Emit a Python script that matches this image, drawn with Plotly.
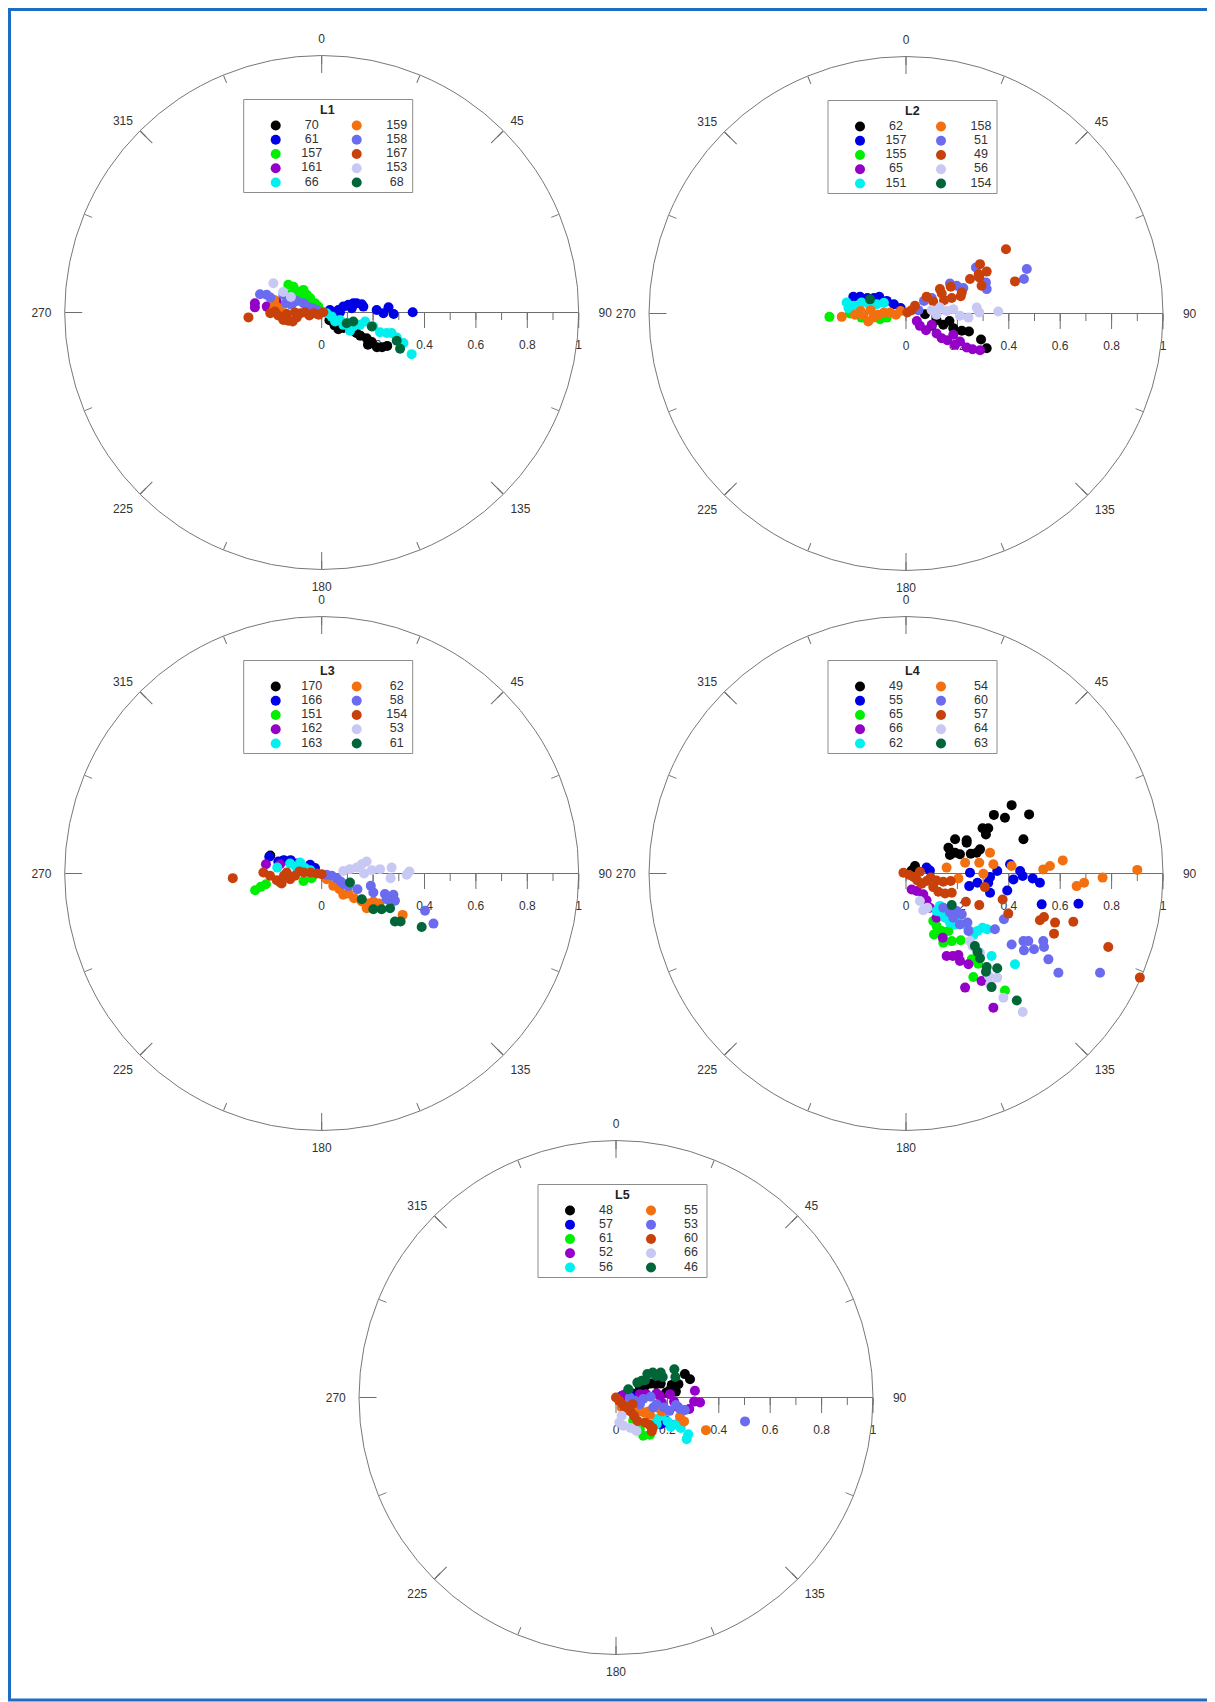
import numpy as np
import plotly.graph_objects as go

W, H = 1215, 1702
FONT = "Liberation Sans, Arial, sans-serif"
COLORS = ["#000000", "#0000e6", "#00ee00", "#9400c8", "#00f0f0",
          "#f2700f", "#6b6bf0", "#c8400a", "#c8c8f5", "#00663a"]

# ---------------- data (east / north components, radial units) ----------------
L1_NAMES = ["70", "61", "157", "161", "66", "159", "158", "167", "153", "68"]
L1_E = [
    [0.03, 0.05, 0.065, 0.085, 0.10, 0.12, 0.135, 0.15, 0.175, 0.195, 0.18, 0.215, 0.235, 0.255, 0.12],
    [0.032, 0.065, 0.084, 0.104, 0.123, 0.136, 0.156, 0.162, 0.214, 0.24, 0.26, 0.28, 0.354, 0.117, 0.071],
    [-0.13, -0.11, -0.097, -0.071, -0.058, -0.045, -0.026, -0.013, -0.084, -0.123, -0.104],
    [-0.26, -0.26, -0.214, -0.20, -0.175],
    [0.019, 0.039, 0.052, 0.071, 0.084, 0.104, 0.123, 0.149, 0.169, 0.20, 0.227, 0.253, 0.272, 0.292, 0.318, 0.35, 0.11],
    [-0.185, -0.182, -0.188, -0.165, -0.143, -0.136, -0.156],
    [-0.24, -0.214, -0.20, -0.149, -0.139, -0.117, -0.097, -0.071, -0.056, -0.035, -0.017],
    [-0.285, -0.20, -0.182, -0.169, -0.149, -0.13, -0.113, -0.097, -0.082, -0.065, -0.048, -0.03, -0.012, 0.006, -0.104, -0.136],
    [-0.188, -0.15, -0.12],
    [0.123, 0.195, 0.292, 0.305, 0.097],
]
L1_N = [
    [-0.03, -0.05, -0.065, -0.06, -0.055, -0.07, -0.08, -0.09, -0.10, -0.115, -0.125, -0.135, -0.135, -0.13, -0.045],
    [0.01, 0.01, 0.023, 0.03, 0.036, 0.036, 0.032, 0.023, 0.01, -0.003, 0.02, -0.006, 0.001, 0.017, 0.001],
    [0.108, 0.10, 0.082, 0.088, 0.069, 0.056, 0.036, 0.023, 0.062, 0.069, 0.043],
    [0.036, 0.02, 0.023, 0.01, 0.043],
    [-0.003, -0.016, -0.035, -0.029, -0.048, -0.042, -0.054, -0.048, -0.035, -0.054, -0.077, -0.08, -0.08, -0.097, -0.119, -0.162, -0.071],
    [0.049, 0.03, 0.01, 0.017, -0.003, -0.022, -0.016],
    [0.071, 0.069, 0.058, 0.069, 0.036, 0.03, 0.045, 0.036, 0.023, 0.017, 0.009],
    [-0.019, -0.003, 0.004, -0.012, -0.029, -0.032, -0.035, -0.019, -0.003, 0.001, -0.012, -0.003, -0.009, 0.001, 0.0, -0.006],
    [0.114, 0.08, 0.06],
    [-0.035, -0.054, -0.11, -0.141, -0.042],
]

L2_NAMES = ["62", "157", "155", "65", "151", "158", "51", "49", "56", "154"]
L2_E = [
    [0.074, 0.119, 0.169, 0.184, 0.217, 0.245, 0.292, 0.314, 0.10, 0.145],
    [-0.205, -0.179, -0.15, -0.125, -0.104, -0.075, -0.047, -0.021],
    [-0.298, -0.218, -0.173, -0.101, -0.075],
    [0.042, 0.054, 0.078, 0.119, 0.139, 0.161, 0.184, 0.21, 0.236, 0.259, 0.288, 0.191, 0.10],
    [-0.231, -0.224, -0.202, -0.173, -0.143, -0.114, -0.086],
    [-0.25, -0.176, -0.166, -0.147, -0.127, -0.108, -0.086, -0.062, -0.039, -0.021, -0.137, -0.198],
    [0.07, 0.10, 0.171, 0.197, 0.223, 0.272, 0.311, 0.314, 0.459, 0.47, 0.048],
    [0.005, 0.035, 0.08, 0.106, 0.132, 0.148, 0.174, 0.178, 0.213, 0.217, 0.249, 0.283, 0.288, 0.285, 0.294, 0.314, 0.389, 0.424, 0.139, 0.022],
    [0.10, 0.132, 0.158, 0.184, 0.21, 0.243, 0.275, 0.285, 0.359, 0.119],
    [-0.14],
]
L2_N = [
    [-0.003, -0.026, -0.029, -0.057, -0.067, -0.07, -0.101, -0.135, -0.048, -0.044],
    [0.065, 0.065, 0.06, 0.06, 0.065, 0.049, 0.036, 0.021],
    [-0.013, 0.0, -0.016, -0.022, -0.016],
    [-0.029, -0.048, -0.065, -0.078, -0.096, -0.104, -0.083, -0.109, -0.132, -0.139, -0.143, -0.122, -0.044],
    [0.043, 0.021, 0.03, 0.043, 0.034, 0.036, 0.042],
    [-0.013, 0.01, -0.005, -0.031, -0.016, -0.005, 0.004, 0.004, -0.005, 0.01, 0.013, -0.005],
    [0.049, 0.06, 0.117, 0.108, 0.099, 0.179, 0.121, 0.095, 0.134, 0.173, 0.013],
    [0.004, 0.03, 0.065, 0.047, 0.095, 0.052, 0.104, 0.06, 0.067, 0.082, 0.134, 0.153, 0.192, 0.14, 0.108, 0.163, 0.25, 0.125, 0.078, 0.013],
    [0.013, 0.023, 0.01, 0.017, -0.009, -0.016, 0.023, 0.004, 0.008, -0.005],
    [0.055],
]

L3_NAMES = ["170", "166", "151", "162", "163", "62", "58", "154", "53", "61"]
L3_E = [
    [-0.2, -0.15],
    [-0.204, -0.169, -0.147, -0.121, -0.097, -0.045, -0.026],
    [-0.259, -0.237, -0.217, -0.162, -0.071, -0.039],
    [-0.217, -0.162],
    [-0.173, -0.123, -0.10, -0.084, -0.065, -0.045],
    [0.019, 0.045, 0.084, 0.104, 0.126, 0.156, 0.182, 0.201, 0.224, 0.315, 0.069, 0.175],
    [0.019, 0.039, 0.058, 0.074, 0.087, 0.104, 0.139, 0.191, 0.201, 0.246, 0.279, 0.285, 0.402, 0.435, 0.253],
    [-0.346, -0.227, -0.201, -0.175, -0.156, -0.147, -0.123, -0.104, -0.087, -0.069, -0.043, -0.019, 0.0, -0.136],
    [0.084, 0.11, 0.136, 0.156, 0.175, 0.195, 0.227, 0.272, 0.268, 0.331, 0.341, 0.165],
    [0.11, 0.156, 0.201, 0.233, 0.266, 0.285, 0.307, 0.389],
]
L3_N = [
    [0.07, 0.05],
    [0.065, 0.047, 0.052, 0.052, 0.039, 0.034, 0.021],
    [-0.065, -0.052, -0.042, -0.035, -0.029, -0.018],
    [0.036, 0.036],
    [0.023, 0.039, 0.026, 0.043, 0.021, 0.013],
    [-0.022, -0.048, -0.083, -0.078, -0.096, -0.109, -0.117, -0.109, -0.117, -0.161, -0.061, -0.135],
    [-0.005, -0.009, -0.018, -0.031, -0.042, -0.048, -0.061, -0.048, -0.074, -0.08, -0.083, -0.106, -0.145, -0.195, -0.10],
    [-0.018, 0.004, -0.009, -0.026, -0.039, -0.009, -0.022, -0.009, 0.008, 0.004, 0.004, 0.0, -0.003, 0.004],
    [0.01, 0.017, 0.023, 0.036, 0.047, 0.013, 0.017, 0.023, -0.018, -0.005, 0.008, 0.0],
    [-0.035, -0.10, -0.139, -0.139, -0.135, -0.187, -0.187, -0.208],
]

L4_NAMES = ["49", "55", "65", "66", "62", "54", "60", "57", "64", "63"]
L4_E = [
    [0.411, 0.342, 0.385, 0.479, 0.298, 0.32, 0.311, 0.191, 0.236, 0.457, 0.236, 0.165, 0.191, 0.21, 0.252, 0.288, 0.275, 0.171, 0.035, 0.022],
    [0.08, 0.093, 0.249, 0.246, 0.278, 0.32, 0.327, 0.355, 0.394, 0.405, 0.418, 0.444, 0.454, 0.493, 0.521, 0.528, 0.671, 0.327],
    [0.106, 0.119, 0.109, 0.139, 0.145, 0.178, 0.213, 0.256, 0.262, 0.281, 0.385, 0.165],
    [0.022, 0.042, 0.067, 0.08, 0.093, 0.119, 0.143, 0.158, 0.182, 0.204, 0.21, 0.243, 0.294, 0.23, 0.34],
    [0.119, 0.139, 0.152, 0.171, 0.191, 0.204, 0.23, 0.249, 0.278, 0.298, 0.316, 0.333, 0.424, 0.132, 0.262],
    [0.158, 0.204, 0.23, 0.285, 0.34, 0.327, 0.301, 0.534, 0.56, 0.61, 0.664, 0.693, 0.765, 0.90, 0.411],
    [0.171, 0.197, 0.217, 0.239, 0.21, 0.243, 0.346, 0.381, 0.411, 0.457, 0.476, 0.459, 0.498, 0.534, 0.537, 0.554, 0.593, 0.755, 0.145, 0.184],
    [-0.01, 0.013, 0.031, 0.044, 0.061, 0.08, 0.096, 0.119, 0.145, 0.174, 0.106, 0.126, 0.152, 0.178, 0.307, 0.233, 0.285, 0.376, 0.398, 0.521, 0.537, 0.58, 0.576, 0.651, 0.787, 0.91, 0.054],
    [0.067, 0.083, 0.054, 0.259, 0.288, 0.322, 0.355, 0.327, 0.379, 0.454, 0.249],
    [0.178, 0.268, 0.278, 0.288, 0.314, 0.311, 0.355, 0.333, 0.431],
]
L4_N = [
    [0.266, 0.228, 0.217, 0.23, 0.176, 0.176, 0.152, 0.133, 0.129, 0.133, 0.12, 0.10, 0.081, 0.075, 0.077, 0.094, 0.081, 0.072, 0.029, 0.012],
    [0.023, 0.012, 0.003, -0.049, -0.036, -0.036, -0.075, 0.01, -0.066, 0.036, -0.023, 0.01, -0.01, -0.019, -0.036, -0.12, -0.118, -0.014],
    [-0.185, -0.204, -0.237, -0.224, -0.269, -0.263, -0.26, -0.334, -0.403, -0.351, -0.455, -0.224],
    [-0.062, -0.068, -0.081, -0.104, -0.133, -0.172, -0.25, -0.321, -0.321, -0.317, -0.34, -0.353, -0.418, -0.444, -0.522],
    [-0.146, -0.152, -0.172, -0.191, -0.198, -0.172, -0.198, -0.224, -0.224, -0.211, -0.217, -0.321, -0.353, -0.126, -0.239],
    [0.023, -0.019, 0.042, 0.042, 0.036, 0.081, -0.001, 0.016, 0.029, 0.051, -0.049, -0.036, -0.016, 0.014, 0.029],
    [-0.152, -0.146, -0.159, -0.191, -0.198, -0.224, -0.217, -0.178, -0.276, -0.263, -0.263, -0.299, -0.295, -0.263, -0.286, -0.334, -0.386, -0.386, -0.133, -0.172],
    [0.003, -0.006, -0.014, -0.027, -0.04, -0.029, -0.016, -0.027, -0.032, -0.029, -0.053, -0.071, -0.078, -0.075, -0.053, -0.11, -0.123, -0.101, -0.156, -0.182, -0.169, -0.191, -0.234, -0.188, -0.286, -0.405, 0.007],
    [-0.143, -0.133, -0.107, -0.282, -0.308, -0.399, -0.405, -0.431, -0.483, -0.539, -0.263],
    [-0.123, -0.282, -0.304, -0.33, -0.364, -0.382, -0.369, -0.442, -0.494],
]

L5_NAMES = ["48", "57", "61", "52", "56", "55", "53", "60", "66", "46"]
L5_E = [
    [0.048, 0.065, 0.093, 0.113, 0.135, 0.158, 0.174, 0.217, 0.233, 0.243, 0.268, 0.288, 0.195, 0.21, 0.156],
    [0.191, 0.208, 0.174, 0.054, 0.022],
    [0.093, 0.106, 0.132, 0.067],
    [0.029, 0.093, 0.117, 0.158, 0.171, 0.178, 0.21, 0.226, 0.239, 0.285, 0.307, 0.304, 0.327],
    [0.158, 0.178, 0.20, 0.213, 0.233, 0.252, 0.281, 0.275, 0.158],
    [0.091, 0.109, 0.126, 0.132, 0.158, 0.178, 0.249, 0.265, 0.35, 0.022],
    [0.054, 0.074, 0.106, 0.135, 0.145, 0.158, 0.187, 0.208, 0.233, 0.249, 0.268, 0.502, 0.093, 0.048],
    [0.0, 0.013, 0.026, 0.044, 0.057, 0.07, 0.083, 0.113, 0.13, 0.143, 0.139, 0.065, 0.035],
    [0.013, 0.029, 0.057, 0.08, 0.022],
    [0.048, 0.083, 0.10, 0.122, 0.143, 0.156, 0.174, 0.182, 0.227, 0.231, 0.113],
]
L5_N = [
    [0.026, 0.016, 0.039, 0.045, 0.054, 0.071, 0.054, 0.049, 0.023, 0.052, 0.091, 0.071, 0.019, 0.029, 0.052],
    [-0.088, -0.104, -0.104, 0.013, 0.006],
    [-0.123, -0.149, -0.145, -0.091],
    [0.01, 0.013, 0.013, 0.016, 0.006, -0.019, 0.013, -0.016, -0.036, -0.045, 0.026, -0.016, -0.019],
    [-0.084, -0.071, -0.093, -0.114, -0.104, -0.119, -0.143, -0.162, -0.104],
    [-0.054, -0.058, -0.054, -0.067, -0.039, -0.054, -0.075, -0.093, -0.127, -0.039],
    [0.0, -0.013, -0.006, 0.003, -0.039, -0.026, -0.039, -0.052, -0.029, -0.045, -0.049, -0.093, -0.026, -0.039],
    [0.0, -0.013, -0.026, -0.036, -0.054, -0.071, -0.091, -0.097, -0.106, -0.119, -0.132, -0.026, -0.049],
    [-0.097, -0.11, -0.119, -0.13, -0.071],
    [0.032, 0.058, 0.065, 0.091, 0.097, 0.084, 0.097, 0.08, 0.11, 0.08, 0.067],
]

NB = "\u00a0"
ANG_MAJOR = [0, 45, 90, 135, 180, 225, 270, 315]
ANG_LABELS = ["0", "45", NB * 3 + "90", "135", "180", "225", "270" + NB, "315"]
ANG_MINOR = [0, 22.5, 45, 67.5, 90, 112.5, 135, 157.5, 180, 202.5, 225, 247.5, 270, 292.5, 315, 337.5]
RAD_MAJOR = [0, 0.2, 0.4, 0.6, 0.8, 1.0]
RAD_MAJOR_TEXT = ["0", "0.2", "0.4", "0.6", "0.8", "1"]
RAD_MINOR = [0, 0.1, 0.2, 0.3, 0.4, 0.5, 0.6, 0.7, 0.8, 0.9, 1.0]

PANELS = [
    ("L1", L1_NAMES, L1_E, L1_N),
    ("L2", L2_NAMES, L2_E, L2_N),
    ("L3", L3_NAMES, L3_E, L3_N),
    ("L4", L4_NAMES, L4_E, L4_N),
    ("L5", L5_NAMES, L5_E, L5_N),
]

# ---------------- layout geometry (pixels, page coordinates) ----------------
PAGE_OFF = 8          # the html body margin shifts the figure by this much
R_PX = 257
CENTERS = [(321.7, 312.5), (906.0, 313.5), (321.7, 873.5), (906.0, 873.5), (616.0, 1397.5)]
LEG_LEFT, LEG_RIGHT, LEG_TOP, LEG_BOTTOM = -78, 91, -213, -120   # relative to panel centre
LEG_W = LEG_RIGHT - LEG_LEFT
ROW0 = 1.82
ROW_PX = 14.25
MARK_X = [32, 113]
TEXT_X = [68, 153]

TICK_C = "#6e6e6e"
TXT_C = "#333333"
CLEAR = "rgba(0,0,0,0)"

fig = go.Figure()
layout = dict(
    width=W, height=H, margin=dict(l=0, r=0, t=0, b=0),
    paper_bgcolor="white", plot_bgcolor=CLEAR, showlegend=False,
    font=dict(family=FONT, size=12, color=TXT_C),
    shapes=[], annotations=[],
)


def pid(n):
    return "polar" if n == 1 else f"polar{n}"


for k, (title, names, E, N) in enumerate(PANELS):
    cx, cy = CENTERS[k]
    cx -= PAGE_OFF
    cy -= PAGE_OFF
    dom = dict(x=[(cx - R_PX) / W, (cx + R_PX) / W],
               y=[1 - (cy + R_PX) / H, 1 - (cy - R_PX) / H])
    base_id, mid_id, top_id = pid(3 * k + 1), pid(3 * k + 2), pid(3 * k + 3)

    # labels + circle + radial line
    layout[base_id] = dict(
        domain=dom, bgcolor=CLEAR,
        angularaxis=dict(rotation=90, direction="clockwise", tickmode="array",
                         tickvals=ANG_MAJOR, ticktext=ANG_LABELS,
                         ticks="outside", ticklen=7, tickcolor=CLEAR,
                         showline=True, linecolor="#777777", linewidth=1, showgrid=False,
                         tickfont=dict(size=12, color=TXT_C, family=FONT)),
        radialaxis=dict(range=[0, 1], angle=0, tickmode="array", tickvals=RAD_MAJOR,
                        ticktext=RAD_MAJOR_TEXT, ticks="outside", ticklen=22,
                        tickcolor=CLEAR, showline=True, linecolor=TICK_C, linewidth=1,
                        showgrid=False, tickangle=0, layer="below traces",
                        tickfont=dict(size=12, color=TXT_C, family=FONT)),
    )
    # major ticks
    layout[mid_id] = dict(
        domain=dom, bgcolor=CLEAR,
        angularaxis=dict(rotation=90, direction="clockwise", tickmode="array",
                         tickvals=ANG_MAJOR, ticks="inside", ticklen=17, tickwidth=1,
                         tickcolor=TICK_C, showticklabels=False, showline=False, showgrid=False),
        radialaxis=dict(range=[0, 1], angle=0, tickmode="array", tickvals=RAD_MAJOR,
                        ticks="outside", ticklen=15, tickwidth=1, tickcolor=TICK_C,
                        showticklabels=False, showline=False, showgrid=False),
    )
    # minor ticks + data
    layout[top_id] = dict(
        domain=dom, bgcolor=CLEAR,
        angularaxis=dict(rotation=90, direction="clockwise", tickmode="array",
                         tickvals=ANG_MINOR, ticks="inside", ticklen=8, tickwidth=1,
                         tickcolor=TICK_C, showticklabels=False, showline=False, showgrid=False),
        radialaxis=dict(range=[0, 1], angle=0, tickmode="array", tickvals=RAD_MINOR,
                        ticks="outside", ticklen=7, tickwidth=1, tickcolor=TICK_C,
                        showticklabels=False, showline=False, showgrid=False,
                        layer="below traces"),
    )
    for sid in (base_id, mid_id):
        fig.add_trace(go.Scatterpolar(r=[0], theta=[0], mode="none", subplot=sid,
                                      hoverinfo="skip", showlegend=False))
    for i in range(len(names)):
        e = np.array(E[i], dtype=float)
        n = np.array(N[i], dtype=float)
        r = np.hypot(e, n)
        th = np.degrees(np.arctan2(e, n)) % 360
        fig.add_trace(go.Scatterpolar(
            r=r, theta=th, mode="markers", subplot=top_id, name=names[i],
            marker=dict(size=10, color=COLORS[i], line=dict(width=0)),
            hoverinfo="skip", showlegend=False))

    # ----- legend key (small hidden cartesian axes) -----
    ax = "" if k == 0 else str(k + 1)
    lx = [(cx + LEG_LEFT) / W, (cx + LEG_RIGHT) / W]
    ly = [1 - (cy + LEG_BOTTOM) / H, 1 - (cy + LEG_TOP) / H]
    rows_total = (LEG_BOTTOM - LEG_TOP) / ROW_PX
    layout["xaxis" + ax] = dict(domain=lx, range=[0, LEG_W], visible=False, fixedrange=True,
                                anchor="y" + ax)
    layout["yaxis" + ax] = dict(domain=ly, range=[rows_total - ROW0, -ROW0], visible=False,
                                fixedrange=True, anchor="x" + ax)
    cols = [i // 5 for i in range(len(names))]
    rows = [i % 5 for i in range(len(names))]
    fig.add_trace(go.Scatter(x=[MARK_X[c] for c in cols], y=rows, mode="markers",
                             xaxis="x" + ax, yaxis="y" + ax, hoverinfo="skip",
                             marker=dict(size=10, color=COLORS[:len(names)])))
    fig.add_trace(go.Scatter(x=[TEXT_X[c] for c in cols], y=rows, mode="text", text=names,
                             textposition="middle center", xaxis="x" + ax, yaxis="y" + ax,
                             hoverinfo="skip", textfont=dict(size=12.5, color=TXT_C, family=FONT)))
    layout["shapes"].append(dict(type="rect", xref=f"x{ax} domain", yref=f"y{ax} domain",
                                 x0=0, x1=1, y0=0, y1=1, layer="below",
                                 line=dict(color="#8c8c8c", width=1), fillcolor="white"))
    layout["annotations"].append(dict(xref="x" + ax, yref="y" + ax, x=84, y=-1.08,
                                      text=f"<b>{title}</b>", showarrow=False,
                                      font=dict(size=12.5, color="#222", family=FONT)))

# outer blue frame (page coords ~5 .. 1213 / 1700)
layout["shapes"].append(dict(type="rect", xref="paper", yref="paper",
                             x0=1.5 / W, x1=(1213.5 - PAGE_OFF) / W,
                             y0=1 - (1700 - PAGE_OFF) / H, y1=1 - 1.5 / H,
                             line=dict(color="#1b6ec2", width=3), layer="above"))

fig.update_layout(**layout)
fig.write_html("out.html")
